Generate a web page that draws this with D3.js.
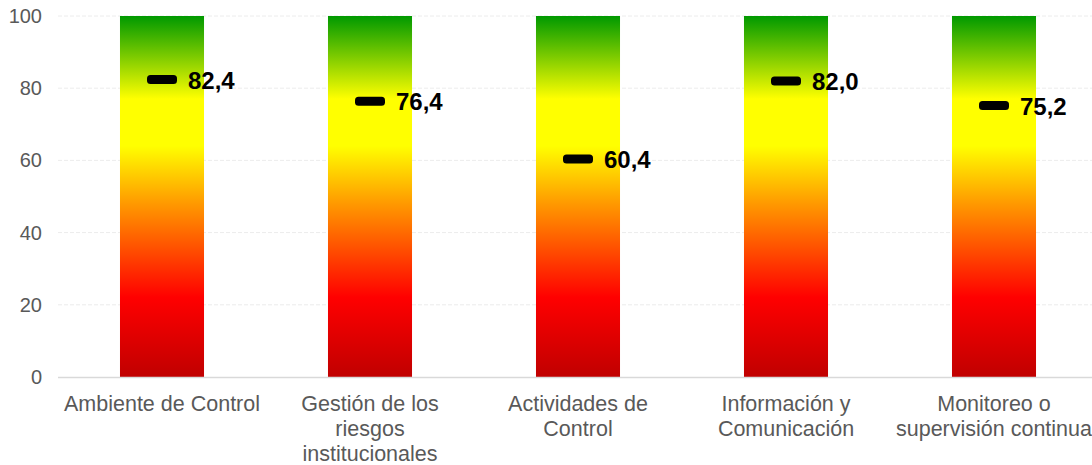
<!DOCTYPE html>
<html>
<head>
<meta charset="utf-8">
<script src="https://cdn.jsdelivr.net/npm/d3@7"></script>
<style>
  html, body { margin: 0; padding: 0; background: #fff; }
  svg { display: block; font-family: "Liberation Sans", Arial, sans-serif; }
</style>
</head>
<body>
<svg id="chart" width="1092" height="465"></svg>
<script>
// Component names (lines of each axis label)
const categories = [
  ["Ambiente de Control"],
  ["Gestión de los", "riesgos", "institucionales"],
  ["Actividades de", "Control"],
  ["Información y", "Comunicación"],
  ["Monitoreo o", "supervisión continua"]
];
// Scale ceiling drawn as the coloured band behind each score
const bandMax = [100, 100, 100, 100, 100];
// Component scores
const scores = [82.4, 76.4, 60.4, 82.0, 75.2];
const yTicks = [0, 20, 40, 60, 80, 100];
// Colour ramp along the 0-100 scale
const rampStops = [
  { v: 0, c: "#c00000" },
  { v: 22, c: "#ff0000" },
  { v: 48, c: "#ff9900" },
  { v: 64, c: "#ffff00" },
  { v: 77, c: "#ffff00" },
  { v: 100, c: "#009900" }
];

const svg = d3.select("#chart");
const W = 1092, H = 465;
const margin = { left: 58, right: -6, top: 16, bottom: 88 };

const keys = categories.map((d, i) => i);
const x = d3.scaleBand().domain(keys).range([margin.left, W - margin.right]).paddingInner(0.596).paddingOuter(0.298);
const y = d3.scaleLinear().domain([0, 100]).range([H - margin.bottom, margin.top]);

// Vertical gradient in user space so each bar shows the same scale colours
const defs = svg.append("defs");
const grad = defs.append("linearGradient")
  .attr("id", "ramp")
  .attr("gradientUnits", "userSpaceOnUse")
  .attr("x1", 0).attr("x2", 0)
  .attr("y1", y(0)).attr("y2", y(100));
grad.selectAll("stop").data(rampStops).join("stop")
  .attr("offset", d => d.v / 100)
  .attr("stop-color", d => d.c);

// Horizontal grid
svg.append("g").selectAll("line").data(yTicks.filter(t => t > 0)).join("line")
  .attr("x1", margin.left).attr("x2", W)
  .attr("y1", d => y(d)).attr("y2", d => y(d))
  .attr("stroke", "#ececec").attr("stroke-width", 1)
  .attr("stroke-dasharray", "4,2");

// Y axis labels
const yAxis = d3.axisLeft(y).tickValues(yTicks).tickSize(0).tickPadding(0);
const gy = svg.append("g").attr("transform", `translate(${42},0)`).call(yAxis);
gy.select(".domain").remove();
gy.selectAll("text")
  .attr("font-size", 20).attr("fill", "#595959")
  .attr("font-family", "'Liberation Sans', Arial, sans-serif");

// Coloured bands
svg.append("g").selectAll("rect").data(bandMax).join("rect")
  .attr("x", (d, i) => x(i))
  .attr("width", x.bandwidth())
  .attr("y", d => y(d))
  .attr("height", d => y(0) - y(d))
  .attr("fill", "url(#ramp)");

// Baseline
svg.append("line")
  .attr("x1", margin.left).attr("x2", W)
  .attr("y1", y(0) + 0.5).attr("y2", y(0) + 0.5)
  .attr("stroke", "#d9d9d9").attr("stroke-width", 1.5);

// X axis labels
const gx = svg.append("g");
categories.forEach((lines, i) => {
  const cx = x(i) + x.bandwidth() / 2;
  const t = gx.append("text")
    .attr("x", cx)
    .attr("y", 411)
    .attr("text-anchor", "middle")
    .attr("font-size", 21.5)
    .attr("fill", "#595959");
  lines.forEach((ln, j) => {
    t.append("tspan").attr("x", cx).attr("dy", j === 0 ? 0 : 25).text(ln);
  });
});

// Score markers
const fmt = v => d3.format(".1f")(v).replace(".", ",");
const gm = svg.append("g");
gm.selectAll("rect").data(scores).join("rect")
  .attr("x", (d, i) => x(i) + x.bandwidth() / 2 - 15)
  .attr("width", 30)
  .attr("y", d => y(d) - 4.5)
  .attr("height", 9)
  .attr("rx", 3.5)
  .attr("fill", "#000");
gm.selectAll("text").data(scores).join("text")
  .attr("x", (d, i) => x(i) + x.bandwidth() / 2 + 26)
  .attr("y", d => y(d) + 9)
  .attr("font-size", 24).attr("font-weight", "bold").attr("fill", "#000")
  .text(d => fmt(d));
</script>
</body>
</html>
